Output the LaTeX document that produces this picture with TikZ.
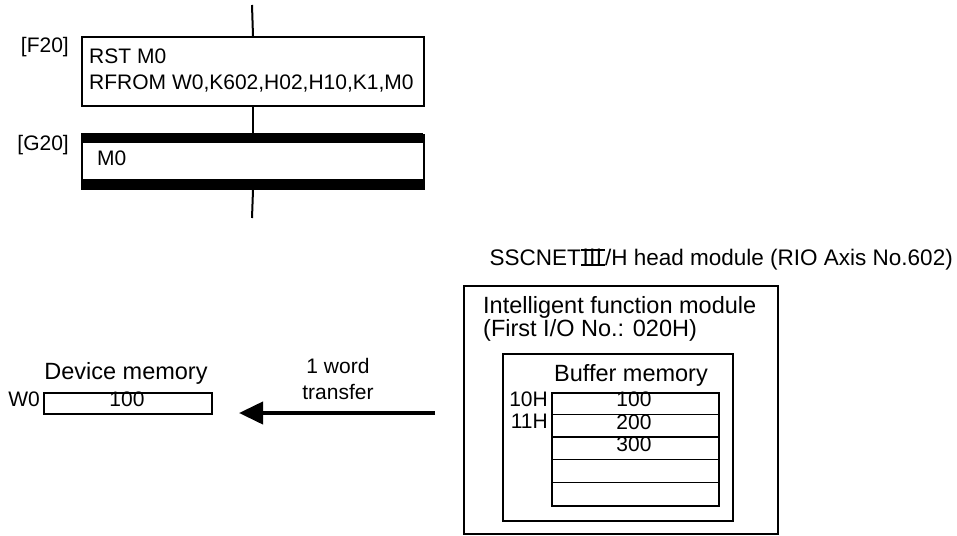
\documentclass[tikz,border=0pt]{standalone}
\usepackage{fontspec}
\setmainfont{Liberation Sans}
\newfontfamily\cjkfont{Noto Sans CJK JP}
\usetikzlibrary{arrows.meta}
\newcommand\barredIII{\leavevmode\hbox{\setbox0=\hbox{\kern0.04em{\cjkfont Ⅲ}\kern0.04em}\rlap{\rule[-0.01em]{\wd0}{0.07em}}\rlap{\rule[0.66em]{\wd0}{0.07em}}\box0}}
\tikzset{
  txt/.style={inner sep=0pt, text height=0.716em, text depth=0pt, font=\fontsize{21}{24}\selectfont},
  ltxt/.style={inner sep=0pt, text height=0.716em, text depth=0pt, font=\fontsize{23.5}{27}\selectfont},
  box/.style={draw, line width=2pt, inner sep=0pt, anchor=north west},
  flow/.style={line width=2pt},
  thinrow/.style={line width=1pt},
}
\begin{document}
\begin{tikzpicture}[x=1pt,y=-1pt]
\useasboundingbox (0,0) rectangle (957,535);
% --- upper flow ---
\coordinate (top) at (252,5);
\coordinate (bot) at (252,218);
\node[box, minimum width=342pt, minimum height=69pt] (f20) at (81,36) {};
\node[box, minimum width=342pt, minimum height=54pt] (g20) at (81,134) {};
\fill (81,133) rectangle (423,143);
\fill (81,179) rectangle (423,189);
\draw[flow] (top) -- (f20.north);
\draw[flow] (f20.south) -- (g20.north);
\draw[flow] (g20.south) -- (bot);
\node[txt, anchor=east] (lf20) at (69,49) {[F20]};
\node[txt, anchor=east] (lg20) at (69,147) {[G20]};
\node[txt, anchor=west] (rst) at (89,60) {RST M0};
\node[txt, anchor=west] (rfrom) at (89,86) {RFROM W0,K602,H02,H10,K1,M0};
\node[txt, anchor=west] (m0) at (97,162) {M0};
% --- lower right module ---
\node[ltxt, anchor=east, font=\fontsize{22.5}{26}\selectfont] (title) at (953,262) {SSCNET\barredIII/H head module (RIO Axis No.602)};
\node[box, minimum width=314pt, minimum height=248pt] (outer) at (463,285) {};
\node[ltxt, anchor=west] (ifm) at (483,310) {Intelligent function module};
\node[ltxt, anchor=west] (fio) at (483,333) {(First I/O No.: 020H)};
\node[box, minimum width=230pt, minimum height=167pt] (inner) at (502,353) {};
\node[ltxt] (buf) at (631,378) {Buffer memory};
\node[box, minimum width=167pt, minimum height=113pt] (tbl) at (551,392) {};
\draw[thinrow] (551,414) -- (718,414);
\draw[line width=2pt] (551,437) -- (718,437);
\draw[thinrow] (551,459) -- (718,459);
\draw[thinrow] (551,482) -- (718,482);
\node[txt] (v100) at (634,403) {100};
\node[txt] (v200) at (634,426) {200};
\node[txt] (v300) at (634,448) {300};
\node[txt, anchor=east] (a10) at (548,403) {10H};
\node[txt, anchor=east] (a11) at (548,425) {11H};
% --- device memory ---
\node[ltxt] (dev) at (126,376) {Device memory};
\node[box, minimum width=168pt, minimum height=21pt] (w0box) at (43,392) {};
\node[txt] (w0v) at (127,403) {100};
\node[txt, anchor=east] (w0) at (40,403) {W0};
% --- arrow ---
\coordinate (astart) at (435,413);
\coordinate (aend) at (239,413);
\draw[line width=4pt, -{Triangle[length=24pt,width=22pt]}] (astart) -- (aend);
\node[txt] (w1) at (338,370) {1 word};
\node[txt] (w2) at (338,396) {transfer};
\end{tikzpicture}
\end{document}
